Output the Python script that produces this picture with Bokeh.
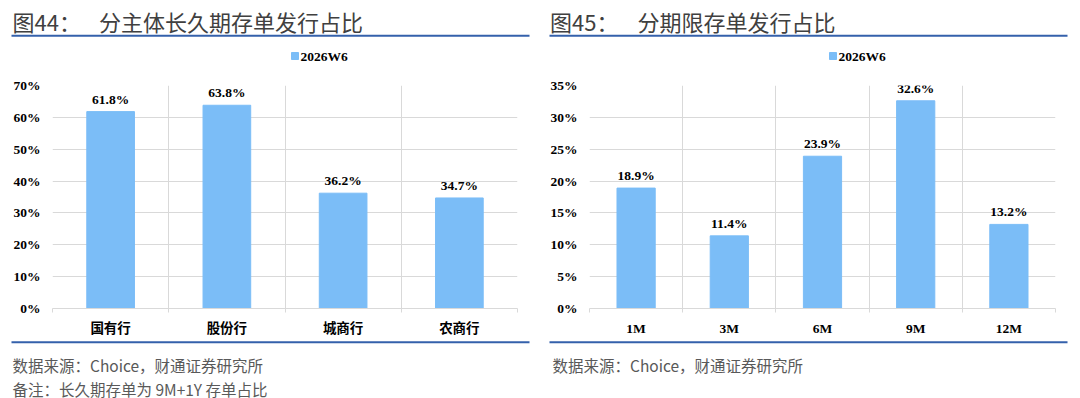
from bokeh.plotting import figure
from bokeh.models import (ColumnDataSource, FixedTicker, PrintfTickFormatter,
                          Range1d, LabelSet)
from bokeh.layouts import row, column
from bokeh.embed import file_html
from bokeh.resources import INLINE

# ---------------- data ----------------
series_name = "2026W6"

left_categories = ["国有行", "股份行", "城商行", "农商行"]
left_values = [61.8, 63.8, 36.2, 34.7]
left_y_ticks = [0, 10, 20, 30, 40, 50, 60, 70]

right_categories = ["1M", "3M", "6M", "9M", "12M"]
right_values = [18.9, 11.4, 23.9, 32.6, 13.2]
right_y_ticks = [0, 5, 10, 15, 20, 25, 30, 35]

left_fig_no = "图44："
left_title = "分主体长久期存单发行占比"
right_fig_no = "图45："
right_title = "分期限存单发行占比"
source_note = "数据来源：Choice，财通证券研究所"
left_remark = "备注：长久期存单为 9M+1Y 存单占比"

# ---------------- style ----------------
BAR = "#7bbdf7"
GRID = "#d9d9d9"
BLUE = "#3461ab"
TITLE_C = "#404040"
NOTE_C = "#595959"
SERIF = "Liberation Serif"
CJK = "Noto Sans CJK SC"
FULL_W = 1080
W = 540
HEAD_H = 66
FOOT_H = 58
CHART_H = 398 - HEAD_H - FOOT_H
LINE_X = [(11, 529), (549, 1067)]


def blank(h):
    p = figure(width=FULL_W, height=h, x_range=Range1d(0, FULL_W), y_range=Range1d(h, 0),
               x_axis_type=None, y_axis_type=None, output_backend="svg",
               toolbar_location=None, min_border=0, outline_line_color=None,
               background_fill_color="white", border_fill_color="white")
    p.xgrid.visible = False
    p.ygrid.visible = False
    return p


def header():
    p = blank(HEAD_H)
    p.text(x=[12, 98.5, 549.5, 637], y=[20] * 4,
           text=[left_fig_no, left_title, right_fig_no, right_title],
           text_font={"value": CJK}, text_font_size="22px", text_color=TITLE_C,
           text_baseline="middle", text_align="left")
    p.segment(x0=[a for a, b in LINE_X], x1=[b for a, b in LINE_X],
              y0=[35.2, 35.2], y1=[35.2, 35.2], line_color=BLUE, line_width=2)
    legend_x = [291, 829]
    p.rect(x=[lx + 3.5 for lx in legend_x], y=[55.5, 55.5], width=7, height=7,
           fill_color=BAR, line_color=BAR)
    p.text(x=[lx + 9 for lx in legend_x], y=[55.5, 55.5], text=[series_name] * 2,
           text_font={"value": SERIF}, text_font_style="bold",
           text_font_size="13.5px", text_color="black",
           text_baseline="middle", text_align="left")
    return p


def footer():
    p = blank(FOOT_H)
    p.segment(x0=[a for a, b in LINE_X], x1=[b for a, b in LINE_X],
              y0=[1.7, 1.7], y1=[1.7, 1.7], line_color=BLUE, line_width=2)
    notes = [source_note, left_remark, source_note]
    p.text(x=[12, 12, 552], y=[24, 48, 24], text=notes, text_font={"value": CJK},
           text_font_size="15.5px", text_color=NOTE_C, text_baseline="middle",
           text_align="left")
    return p


def chart(cats, vals, yticks, fl, fr, fb):
    n = len(cats)
    xs = [i + 0.5 for i in range(n)]
    p = figure(width=W, height=CHART_H, x_range=Range1d(0, n),
               y_range=Range1d(yticks[0], yticks[-1]),
               output_backend="svg", toolbar_location=None,
               min_border_left=fl, min_border_right=fr,
               min_border_top=85 - HEAD_H, min_border_bottom=fb,
               outline_line_color=None, background_fill_color="white",
               border_fill_color="white")
    src = ColumnDataSource(dict(x=xs, top=vals, label=[f"{v:.1f}%" for v in vals]))
    p.vbar(x="x", top="top", width=0.41, source=src, fill_color=BAR, line_color=BAR)
    p.add_layout(LabelSet(x="x", y="top", text="label", source=src,
                          text_align="center", text_baseline="bottom", y_offset=5,
                          text_font=SERIF, text_font_style="bold",
                          text_font_size="13.5px", text_color="black"))

    xa = p.xaxis[0]
    xa.ticker = FixedTicker(ticks=xs, minor_ticks=list(range(n + 1)))
    xa.major_label_overrides = {x: c for x, c in zip(xs, cats)}
    xa.major_tick_line_color = None
    xa.major_tick_out = 0
    xa.major_tick_in = 0
    xa.minor_tick_in = 0
    xa.minor_tick_out = 4
    xa.minor_tick_line_color = GRID
    xa.axis_line_color = GRID
    xa.major_label_standoff = 8
    xa.major_label_text_font = SERIF + ", " + CJK
    xa.major_label_text_font_style = "bold"
    xa.major_label_text_font_size = "13.5px"
    xa.major_label_text_color = "black"

    ya = p.yaxis[0]
    ya.ticker = FixedTicker(ticks=yticks)
    ya.formatter = PrintfTickFormatter(format="%d%%")
    ya.axis_line_color = None
    ya.major_tick_line_color = None
    ya.minor_tick_line_color = None
    ya.major_tick_out = 0
    ya.major_label_standoff = 12
    ya.major_label_text_font = SERIF
    ya.major_label_text_font_style = "bold"
    ya.major_label_text_font_size = "13.5px"
    ya.major_label_text_color = "black"

    p.xgrid.ticker = FixedTicker(ticks=list(range(n + 1)))
    p.xgrid.grid_line_color = GRID
    p.ygrid.grid_line_color = GRID
    return p


charts = row(
    chart(left_categories, left_values, left_y_ticks, 52, 23, 340 - 308),
    chart(right_categories, right_values, right_y_ticks, 49, 25, 340 - 310),
)

layout = column(header(), charts, footer())
open("out.html", "w").write(file_html(layout, INLINE))
